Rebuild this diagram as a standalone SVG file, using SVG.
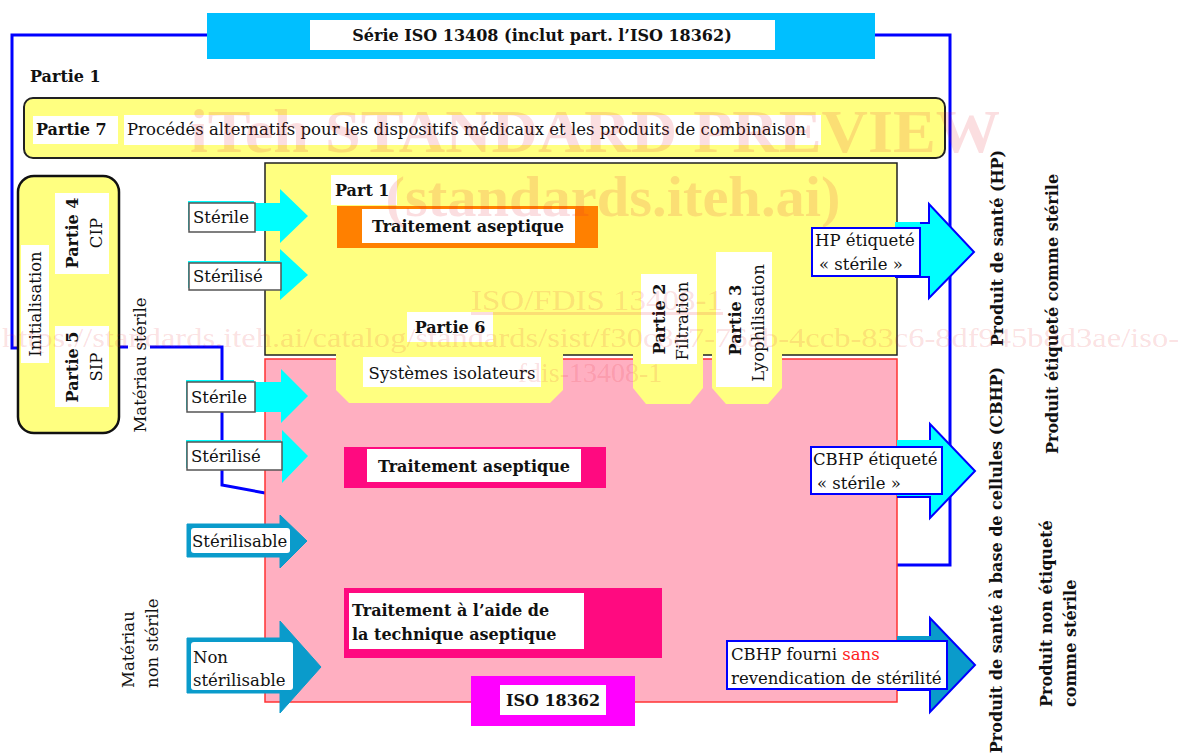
<svg xmlns="http://www.w3.org/2000/svg" width="1181" height="753" viewBox="0 0 1181 753">
<style>
.t{font-family:"DejaVu Serif","Liberation Serif",serif;font-size:16.5px;fill:#111}
.b{font-weight:bold;font-size:16px}
.c{text-anchor:middle}
.m{dominant-baseline:central}
.wm{font-family:"Liberation Serif",serif;fill:#E5202E;fill-opacity:0.15}
.wb{fill:#fff}
.blue{fill:none;stroke:#0000FF;stroke-width:3}
.yel{fill:#FFFF80}
.cy{fill:#00FFFF}
.db{fill:#0A9BCB}
.inlab{fill:#fff;stroke:#555;stroke-width:1.5}
.outlab{fill:#fff;stroke:#0000FF;stroke-width:2}
</style>
<rect width="1181" height="753" fill="#fff"/>

<g id="connectors">
<polyline class="blue" points="207,35 12,35 12,348 20,348"/>
<polyline class="blue" points="875,35 950,35 950,565 897,565"/>
<polyline class="blue" points="118,347 222,347 222,485 265,493"/>
</g>

<g id="header">
<rect x="207" y="13" width="668" height="46" fill="#00BFFF"/>
<rect x="310" y="20" width="465" height="30" class="wb"/>
<text x="542" y="41" class="t b c">Série ISO 13408 (inclut part. l’ISO 18362)</text>
</g>

<g id="partie1-label">
<text x="30" y="82" class="t b">Partie 1</text>
</g>

<g id="partie7">
<rect x="24" y="98" width="921" height="60" rx="9" class="yel" stroke="#222" stroke-width="2"/>
<rect x="33" y="116" width="85" height="28" class="wb"/>
<text x="36" y="135" class="t b">Partie 7</text>
<rect x="124" y="115" width="697" height="30" class="wb"/>
<text x="127" y="135" class="t">Procédés alternatifs pour les dispositifs médicaux et les produits de combinaison</text>
</g>

<g id="cip-sip">
<rect x="18" y="176" width="101" height="257" rx="16" class="yel" stroke="#111" stroke-width="2.5"/>
<rect x="21" y="245" width="28" height="118" class="wb"/>
<text transform="translate(35,304) rotate(-90)" class="t c m">Initialisation</text>
<rect x="55" y="193" width="54" height="81" class="wb"/>
<text transform="translate(72,233) rotate(-90)" class="t b c m">Partie 4</text>
<text transform="translate(96,233) rotate(-90)" class="t c m">CIP</text>
<rect x="55" y="326" width="54" height="81" class="wb"/>
<text transform="translate(72,367) rotate(-90)" class="t b c m">Partie 5</text>
<text transform="translate(96,367) rotate(-90)" class="t c m">SIP</text>
</g>

<g id="materiau-sterile">
<rect x="128" y="296" width="22" height="137" class="wb"/>
<text transform="translate(140,365) rotate(-90)" class="t c m">Matériau stérile</text>
</g>

<g id="materiau-non-sterile">
<text transform="translate(128,688) rotate(-90)" class="t m">Matériau</text>
<text transform="translate(152,688) rotate(-90)" class="t m">non stérile</text>
</g>

<g id="zone-hp">
<rect x="265" y="163" width="632" height="192" class="yel" stroke="#222" stroke-width="1.5"/>
</g>
<g id="zone-cbhp">
<rect x="265" y="359" width="632" height="343" fill="#FFAFC1" stroke="#FF3333" stroke-width="1.5"/>
</g>

<g id="partie6">
<polygon class="yel" points="336,354 563,354 563,390 550,403 349,403 336,390"/>
<rect x="407" y="312" width="86" height="30" class="wb"/>
<text x="450" y="333" class="t b c">Partie 6</text>
<rect x="363" y="357" width="178" height="30" class="wb"/>
<text x="452" y="379" class="t c">Systèmes isolateurs</text>
</g>

<g id="partie2">
<polygon class="yel" points="633,354 703,354 703,388 690,404 646,404 633,388"/>
<rect x="641" y="274" width="56" height="90" class="wb"/>
<text transform="translate(659,319) rotate(-90)" class="t b c m">Partie 2</text>
<text transform="translate(682,321) rotate(-90)" class="t c m">Filtration</text>
</g>

<g id="partie3">
<polygon class="yel" points="712,354 782,354 782,388 768,404 726,404 712,388"/>
<rect x="716" y="252" width="56" height="135" class="wb"/>
<text transform="translate(735,320) rotate(-90)" class="t b c m">Partie 3</text>
<text transform="translate(758,323) rotate(-90)" class="t c m">Lyophilisation</text>
</g>

<g id="part1-traitement">
<rect x="331" y="175" width="66" height="30" class="wb"/>
<text x="335" y="196" class="t b">Part 1</text>
<rect x="337" y="206" width="261" height="42" fill="#FF8000"/>
<rect x="362" y="209" width="213" height="34" class="wb"/>
<text x="468" y="232" class="t b c">Traitement aseptique</text>
</g>

<g id="traitement-aseptique-cbhp">
<rect x="344" y="447" width="262" height="41" fill="#FF0A80"/>
<rect x="367" y="449" width="214" height="33" class="wb"/>
<text x="474" y="472" class="t b c">Traitement aseptique</text>
</g>

<g id="technique-aseptique">
<rect x="344" y="588" width="318" height="70" fill="#FF0A80"/>
<rect x="349" y="593" width="235" height="56" class="wb"/>
<text x="352" y="616" class="t b">Traitement à l’aide de</text>
<text x="352" y="640" class="t b">la technique aseptique</text>
</g>

<g id="iso18362">
<rect x="471" y="676" width="164" height="50" fill="#FF00FF"/>
<rect x="500" y="685" width="106" height="30" class="wb"/>
<text x="553" y="706" class="t b c">ISO 18362</text>
</g>

<g id="in-sterile-1">
<polygon class="cy" points="189,203 280,203 280,189 308,216 280,243 280,231 189,231"/>
<rect x="188" y="201" width="66" height="29" class="cy"/>
<rect x="189" y="203" width="66" height="29" class="inlab"/>
<text x="193" y="223" class="t">Stérile</text>
</g>
<g id="in-sterilise-1">
<polygon class="cy" points="189,263 280,263 280,249 308,275 280,300 280,290 189,290"/>
<rect x="188" y="261" width="92" height="27" class="cy"/>
<rect x="189" y="263" width="92" height="27" class="inlab"/>
<text x="193" y="282" class="t">Stérilisé</text>
</g>
<g id="in-sterile-2">
<polygon class="cy" points="187,382 281,382 281,369 308,396 281,423 281,412 187,412"/>
<rect x="186" y="380" width="68" height="30" class="cy"/>
<rect x="187" y="382" width="68" height="30" class="inlab"/>
<text x="191" y="403" class="t">Stérile</text>
</g>
<g id="in-sterilise-2">
<polygon class="cy" points="187,442 282,442 282,430 308,456 282,483 282,470 187,470"/>
<rect x="186" y="440" width="95" height="28" class="cy"/>
<rect x="187" y="442" width="95" height="28" class="inlab"/>
<text x="191" y="462" class="t">Stérilisé</text>
</g>
<g id="in-sterilisable">
<polygon class="db" points="187,524 280,524 280,515 307,541 280,568 280,557 187,557" stroke="#0A9BCB" stroke-width="1" stroke-linejoin="round"/>
<rect x="191" y="528" width="99" height="25" rx="3" class="wb"/>
<text x="192" y="547" class="t">Stérilisable</text>
</g>
<g id="in-non-sterilisable">
<polygon class="db" points="187,638 280,638 280,621 321,667 280,713 280,693 187,693" stroke="#0A9BCB" stroke-width="1" stroke-linejoin="round"/>
<rect x="191" y="642" width="102" height="48" rx="3" class="wb"/>
<text x="193" y="663" class="t">Non</text>
<text x="193" y="686" class="t">stérilisable</text>
</g>

<g id="out-hp">
<polygon class="cy" points="895,222 929,222 929,204 974,252 929,298 929,277 895,277"/>
<polyline points="920,223 929,223 929,204 974,252 929,298 929,277 895,277" fill="none" stroke="#0000FF" stroke-width="2"/>
<rect x="812" y="228" width="108" height="48" class="outlab"/>
<text x="815" y="246" class="t">HP étiqueté</text>
<text x="819" y="270" class="t">« stérile »</text>
</g>
<g id="out-cbhp-sterile">
<polygon class="cy" points="897,440 930,440 930,424 975,471 930,518 930,497 897,497"/>
<polyline points="930,440 930,424 975,471 930,518 930,497 897,497" fill="none" stroke="#0000FF" stroke-width="2"/>
<rect x="811" y="447" width="131" height="47" class="outlab"/>
<text x="813" y="465" class="t">CBHP étiqueté</text>
<text x="817" y="489" class="t">« stérile »</text>
</g>
<g id="out-cbhp-sans">
<polygon class="db" points="897,636 930,636 930,618 975,665 930,712 930,690 897,690"/>
<polyline points="930,636 930,618 975,665 930,712 930,690 897,690" fill="none" stroke="#0000FF" stroke-width="2"/>
<rect x="727" y="641" width="220" height="48" class="outlab"/>
<text x="731" y="660" class="t">CBHP fourni <tspan fill="#FF2020">sans</tspan></text>
<text x="731" y="684" class="t">revendication de stérilité</text>
</g>

<g id="products">
<text transform="translate(997,248) rotate(-90)" class="t b c m">Produit de santé (HP)</text>
<text transform="translate(1052,314) rotate(-90)" class="t b c m">Produit étiqueté comme stérile</text>
<text transform="translate(996,560) rotate(-90)" class="t b c m">Produit de santé à base de cellules (CBHP)</text>
<text transform="translate(1046,707) rotate(-90)" class="t b m">Produit non étiqueté</text>
<text transform="translate(1070,707) rotate(-90)" class="t b m">comme stérile</text>
</g>

<g id="watermark">
<text x="595" y="152" class="wm c" font-size="62" font-weight="bold" textLength="810" lengthAdjust="spacingAndGlyphs">iTeh STANDARD PREVIEW</text>
<text x="613" y="216" class="wm c" font-size="58" font-weight="bold" textLength="455" lengthAdjust="spacingAndGlyphs">(standards.iteh.ai)</text>
<text x="597" y="310" class="wm c" font-size="30" text-decoration="underline" textLength="252" lengthAdjust="spacingAndGlyphs">ISO/FDIS 13408-1</text>
<text x="2" y="347" class="wm" font-size="28" textLength="1177" lengthAdjust="spacingAndGlyphs">https://standards.iteh.ai/catalog/standards/sist/f30c8e7-76ab-4ccb-83c6-8df945b8d3ae/iso-</text>
<text x="590" y="382" class="wm c" font-size="28">fdis-13408-1</text>
</g>
</svg>
